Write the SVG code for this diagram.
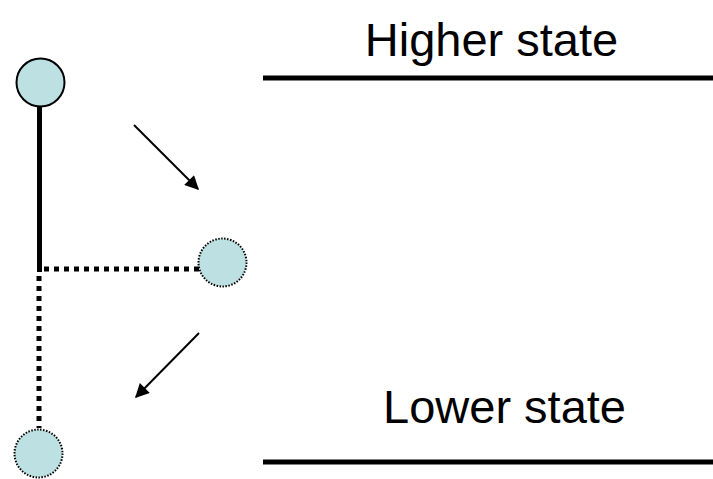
<svg xmlns="http://www.w3.org/2000/svg" width="713" height="479" viewBox="0 0 713 479">
<style>
.lbl{font-family:"Liberation Sans",Arial,sans-serif;font-size:47px;fill:#000}
.lvl{stroke:#000;stroke-width:5}
.solid{stroke:#000;stroke-width:5;fill:none}
.dot{stroke:#000;stroke-width:5;stroke-dasharray:5 5;fill:none}
.nd{fill:#bde0e2}
.arr{stroke:#000;stroke-width:2;fill:none}
</style>
<defs>
<marker id="ah" viewBox="0 0 10 10" refX="9" refY="5" markerWidth="8" markerHeight="7" orient="auto" markerUnits="strokeWidth">
<path d="M0,0 L10,5 L0,10 z" fill="#000"/>
</marker>
</defs>
<g id="levels">
<text class="lbl" x="491.5" y="56" text-anchor="middle">Higher state</text>
<line class="lvl" x1="263" y1="78" x2="713" y2="78"/>
<text class="lbl" x="504.5" y="423" text-anchor="middle">Lower state</text>
<line class="lvl" x1="263" y1="462" x2="713" y2="462"/>
</g>
<g id="connectors">
<line class="solid" x1="39.5" y1="107" x2="39.5" y2="272"/>
<line class="dot" x1="44" y1="269" x2="200" y2="269"/>
<line class="dot" x1="39" y1="276" x2="39" y2="428"/>
<line class="arr" x1="134" y1="125" x2="198" y2="189" marker-end="url(#ah)"/>
<line class="arr" x1="199" y1="333" x2="136" y2="397" marker-end="url(#ah)"/>
</g>
<g id="node-top">
<circle class="nd" cx="40.5" cy="82.5" r="24" stroke="#000" stroke-width="2"/>
</g>
<g id="node-mid">
<circle class="nd" cx="222.5" cy="262.5" r="24" stroke="#000" stroke-width="2" stroke-dasharray="1.5 1.5"/>
</g>
<g id="node-bottom">
<circle class="nd" cx="38.5" cy="453.5" r="24" stroke="#000" stroke-width="2" stroke-dasharray="1.5 1.5"/>
</g>
</svg>
